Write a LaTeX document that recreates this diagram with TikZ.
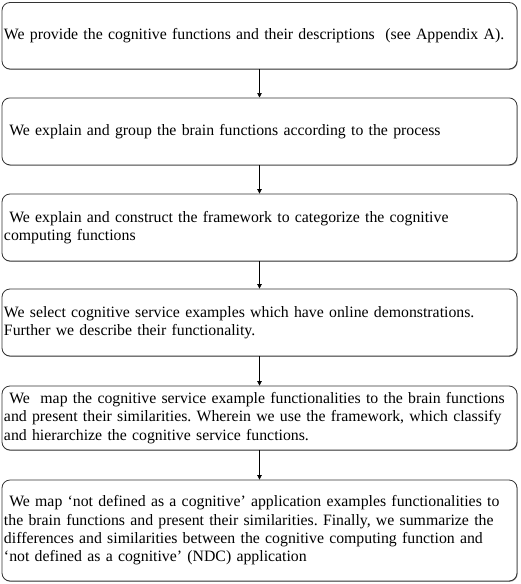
\documentclass[tikz,border=0pt]{standalone}
\usepackage{fontspec}
\setmainfont{Liberation Serif}
\usetikzlibrary{arrows.meta,shadows}
\frenchspacing
\hyphenpenalty=10000
\exhyphenpenalty=10000

\begin{document}
\begin{tikzpicture}[
    x=1pt, y=-1pt,
    stepbox/.style={draw=black!80, line width=0.8pt, rounded corners=8pt, fill=white,
        drop shadow={shadow xshift=0.6pt, shadow yshift=-0.8pt, fill=black!45, opacity=1},
        text width=511pt, inner xsep=2pt, inner ysep=0pt, align=left,
        font=\fontsize{15.8}{18.4}\selectfont},
    flow/.style={-{Triangle[length=4.5pt,width=4.5pt]}, line width=0.7pt, black}
]
\useasboundingbox (0,0) rectangle (520,584);

% Kroki (od góry)
\node[stepbox, minimum height=66.5pt] (s1) at (259.5,35.75)
    {We provide the cognitive functions and their descriptions~ (see Appendix A).};
\node[stepbox, minimum height=67pt] (s2) at (259.5,131.4)
    {\ We explain and group the brain functions according to the process};
\node[stepbox, minimum height=67pt] (s3) at (259.5,227.5)
    {\ We explain and construct the framework to categorize the cognitive\\
     computing functions};
\node[stepbox, minimum height=67pt] (s4) at (259.5,322.5)
    {We select cognitive service examples which have online demonstrations.\\
     Further we describe their functionality.};
\node[stepbox, minimum height=64pt] (s5) at (259.5,418)
    {\ We~ map the cognitive service example functionalities to the brain functions\\
     and present their similarities. Wherein we use the framework, which classify\\
     and hierarchize the cognitive service functions.};
\node[stepbox, minimum height=101pt] (s6) at (259.5,530.5)
    {\ We map `not defined as a cognitive' application examples functionalities to\\
     the brain functions and present their similarities. Finally, we summarize the\\
     differences and similarities between the cognitive computing function and\\
     `not defined as a cognitive' (NDC) application};

% Strzałki między krokami
\draw[flow] (s1) -- (s2);
\draw[flow] (s2) -- (s3);
\draw[flow] (s3) -- (s4);
\draw[flow] (s4) -- (s5);
\draw[flow] (s5) -- (s6);

\end{tikzpicture}
\end{document}
